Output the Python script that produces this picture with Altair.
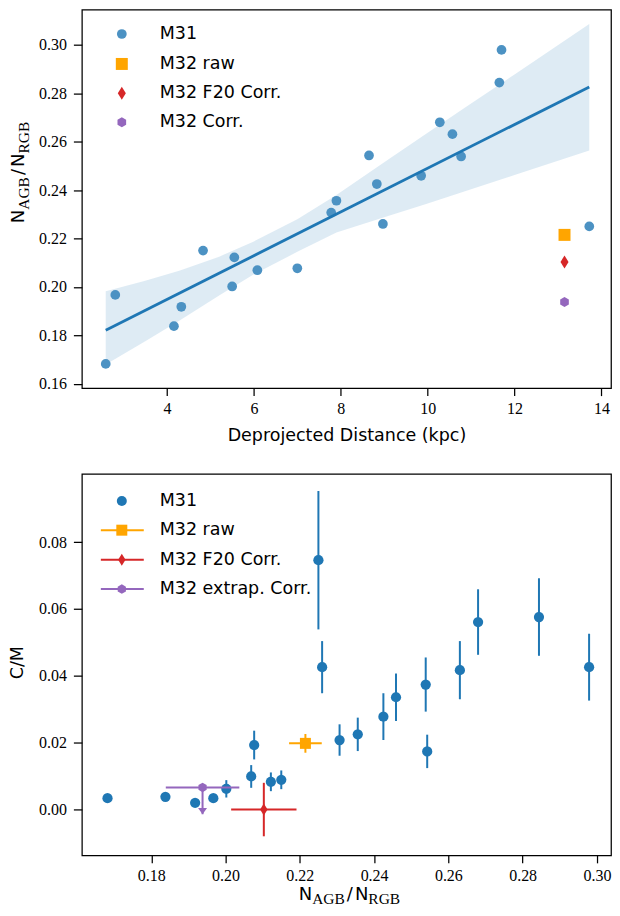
import altair as alt
import pandas as pd

# ---------------- data ----------------
m31_dist = [2.59, 2.81, 4.16, 4.33, 4.83, 5.50, 5.55, 6.08, 7.00, 7.78, 7.90,
            8.65, 8.83, 8.97, 9.85, 10.28, 10.57, 10.77, 11.65, 11.70, 13.72]
m31_ratio = [0.1682, 0.1967, 0.1838, 0.1918, 0.2150, 0.2002, 0.2122, 0.2069, 0.2077, 0.2307, 0.2356,
             0.2543, 0.2425, 0.2260, 0.2459, 0.2680, 0.2631, 0.2539, 0.2844, 0.2979, 0.2250]
m31_cm = [0.0034, 0.0034, 0.0038, 0.0020, 0.0089, 0.0062, 0.0083, 0.0099, 0.0193, 0.0208, 0.0225,
          0.0174, 0.0278, 0.0426, 0.0336, 0.0561, 0.0417, 0.0374, 0.0576, 0.0426, 0.0746]
m31_cm_err = [0.0, 0.0, 0.0008, 0.0, 0.0028, 0.0026, 0.0028, 0.0034, 0.0043, 0.0047, 0.0050,
              0.0050, 0.0070, 0.0078, 0.0071, 0.0098, 0.0087, 0.0081, 0.0116, 0.0100, 0.0207]

m32_series = ["M32 raw", "M32 F20 Corr.", "M32 Corr."]
m32_dist = [13.15, 13.15, 13.15]
m32_ratio = [0.2215, 0.2103, 0.1938]
m32_ratio_err = [0.0044, 0.0088, 0.0099]
m32_cm = [0.0198, 0.0000, 0.0066]
m32_cm_err = [0.0028, 0.0080, 0.0080]
m32_uplim = [False, False, True]

band_dist = [2.59, 3.5, 4.3, 5.2, 6.0, 7.0, 7.9, 9.0, 10.0, 11.0, 12.0, 13.72]
band_lo = [0.1680, 0.1776, 0.1862, 0.1965, 0.2052, 0.2145, 0.2225, 0.2288, 0.2345, 0.2403, 0.2462, 0.2564]
band_hi = [0.1982, 0.2025, 0.2068, 0.2125, 0.2188, 0.2280, 0.2380, 0.2515, 0.2637, 0.2758, 0.2878, 0.3086]

top_legend = ["M31", "M32 raw", "M32 F20 Corr.", "M32 Corr."]
bottom_legend = ["M31", "M32 raw", "M32 F20 Corr.", "M32 extrap. Corr."]

x1_ticks = [4, 6, 8, 10, 12, 14]
y1_ticks = [0.16, 0.18, 0.20, 0.22, 0.24, 0.26, 0.28, 0.30]
x2_ticks = [0.18, 0.20, 0.22, 0.24, 0.26, 0.28, 0.30]
y2_ticks = [0.00, 0.02, 0.04, 0.06, 0.08]

# ---------------- styles ----------------
BLUE = "#1f77b4"
BLUE_A = "#4c92c3"
ORANGE = "#ffa500"
RED = "#d62728"
PURPLE = "#9467bd"
SANS = "DejaVu Sans"
SERIF = "Liberation Serif"
THIN_D = "M0,-1L0.62,0L0,1L-0.62,0Z"
HEX = "M0,-1L0.866,-0.5L0.866,0.5L0,1L-0.866,0.5L-0.866,-0.5Z"
ARROW = "M-1,-1.4L1,-1.4L0,0Z"

W = 530
H1 = 379
H2 = 382
LEFT = 81      # page x of plot-area left edge
TOP2 = 473     # page y of bottom plot-area top

m31_df = pd.DataFrame({"dist": m31_dist, "ratio": m31_ratio, "cm": m31_cm, "err": m31_cm_err})
m31_df["cm_lo"] = m31_df["cm"] - m31_df["err"]
m31_df["cm_hi"] = m31_df["cm"] + m31_df["err"]

m32_df = pd.DataFrame({"series": m32_series, "dist": m32_dist, "ratio": m32_ratio,
                       "rerr": m32_ratio_err, "cm": m32_cm, "cerr": m32_cm_err, "uplim": m32_uplim})
m32_df["r_lo"] = m32_df["ratio"] - m32_df["rerr"]
m32_df["r_hi"] = m32_df["ratio"] + m32_df["rerr"]
m32_df["c_lo"] = m32_df["cm"] - m32_df["cerr"]
m32_df["c_hi"] = [c if u else c + e for c, e, u in zip(m32_cm, m32_cm_err, m32_uplim)]

band_df = pd.DataFrame({"dist": band_dist, "lo": band_lo, "hi": band_hi})

xs1 = alt.Scale(domain=[2.041, 14.22], nice=False, zero=False)
ys1 = alt.Scale(domain=[0.1582, 0.3145], nice=False, zero=False)
xs2 = alt.Scale(domain=[0.1613, 0.3038], nice=False, zero=False)
ys2 = alt.Scale(domain=[-0.0137, 0.1004], nice=False, zero=False)

m32_colors = {"M32 raw": ORANGE, "M32 F20 Corr.": RED, "M32 Corr.": PURPLE}
m32_shapes = {"M32 raw": "square", "M32 F20 Corr.": THIN_D, "M32 Corr.": HEX}
top_sizes = {"M32 raw": 144, "M32 F20 Corr.": 169, "M32 Corr.": 100}
bot_sizes = {"M32 raw": 121, "M32 F20 Corr.": 144, "M32 Corr.": 90}


def text_piece(txt, x, y, font, size, angle=0, align="left"):
    return alt.Chart(pd.DataFrame({"t": [txt]})).mark_text(
        align=align, baseline="alphabetic", font=font, fontSize=size, angle=angle, color="black"
    ).encode(x=alt.value(x), y=alt.value(y), text="t:N")


# composite "N_AGB / N_RGB" label
PIECES = [("N", False), ("AGB", True), ("/", False), ("N", False), ("RGB", True)]
OFFS = [0, 13.5, 48.2, 56.3, 69.8]
TOTAL = 101.7


def ratio_label(x0, y0, vertical):
    out = []
    for (txt, sub), off in zip(PIECES, OFFS):
        font = SERIF if sub else SANS
        size = 15.5 if sub else 18
        if vertical:
            out.append(text_piece(txt, x0 + (4.5 if sub else 0), y0 - off, font, size, angle=270))
        else:
            out.append(text_piece(txt, x0 + off, y0 + (4.5 if sub else 0), font, size))
    return out


def legend(labels, colors, shapes, sizes, ys, lines):
    out = []
    for lab, col, shp, sz, yy, ln in zip(labels, colors, shapes, sizes, ys, lines):
        d = alt.Chart(pd.DataFrame({"label": [lab]}))
        if ln:
            out.append(d.mark_rule(color=col, strokeWidth=2).encode(
                x=alt.value(19), x2=alt.value(62), y=alt.value(yy)))
        out.append(d.mark_point(shape=shp, filled=True, color=col, size=sz, opacity=1, strokeWidth=0).encode(
            x=alt.value(40), y=alt.value(yy)))
        out.append(d.mark_text(align="left", baseline="middle", font=SANS, fontSize=17.5, color="black").encode(
            x=alt.value(78), y=alt.value(yy), text="label:N"))
    return out


# ---------------- top panel ----------------
band = alt.Chart(band_df).mark_area(color=BLUE, opacity=0.15).encode(
    x=alt.X("dist:Q", scale=xs1, axis=alt.Axis(values=x1_ticks, format="d", title="Deprojected Distance (kpc)")),
    y=alt.Y("lo:Q", scale=ys1, axis=alt.Axis(values=y1_ticks, format=".2f", title=None)),
    y2="hi:Q",
)
pts1 = alt.Chart(m31_df).mark_circle(color=BLUE_A, size=95, opacity=1).encode(x="dist:Q", y="ratio:Q")
reg = alt.Chart(m31_df).transform_regression("dist", "ratio").mark_line(color=BLUE, strokeWidth=2.8).encode(
    x="dist:Q", y="ratio:Q")
top_layers = [band, pts1, reg]
for s in m32_series:
    top_layers.append(
        alt.Chart(m32_df).transform_filter(alt.datum.series == s).mark_point(
            shape=m32_shapes[s], filled=True, color=m32_colors[s], size=top_sizes[s], opacity=1, strokeWidth=0
        ).encode(x="dist:Q", y="ratio:Q"))
top_layers += legend(top_legend, [BLUE_A, ORANGE, RED, PURPLE], ["circle", "square", THIN_D, HEX],
                     [95, 144, 169, 100], [24.3, 54.3, 83.7, 112.7], [False] * 4)
top_layers += ratio_label(23.3 - LEFT, 171 - 8 + TOTAL / 2, True)
top = alt.layer(*top_layers).properties(width=W, height=H1)

# ---------------- bottom panel ----------------
err1 = alt.Chart(m31_df).mark_rule(color=BLUE, strokeWidth=2).encode(
    x=alt.X("ratio:Q", scale=xs2, axis=alt.Axis(values=x2_ticks, format=".2f", title=None)),
    y=alt.Y("cm_lo:Q", scale=ys2, axis=alt.Axis(values=y2_ticks, format=".2f", title=None)),
    y2="cm_hi:Q",
)
pts2 = alt.Chart(m31_df).mark_circle(color=BLUE, size=105, opacity=1).encode(x="ratio:Q", y="cm:Q")
bot_layers = [err1, pts2]
for s in m32_series:
    base = alt.Chart(m32_df).transform_filter(alt.datum.series == s)
    c = m32_colors[s]
    bot_layers.append(base.mark_rule(color=c, strokeWidth=2).encode(x="r_lo:Q", x2="r_hi:Q", y="cm:Q"))
    bot_layers.append(base.mark_rule(color=c, strokeWidth=2).encode(x="ratio:Q", y="c_lo:Q", y2="c_hi:Q"))
    if s == "M32 Corr.":
        bot_layers.append(base.mark_point(shape=ARROW, filled=True, color=c, size=81, opacity=1, strokeWidth=0)
                          .encode(x="ratio:Q", y="c_lo:Q"))
    bot_layers.append(base.mark_point(shape=m32_shapes[s], filled=True, color=c, size=bot_sizes[s],
                                      opacity=1, strokeWidth=0).encode(x="ratio:Q", y="cm:Q"))
bot_layers += legend(bottom_legend, [BLUE, ORANGE, RED, PURPLE], ["circle", "square", THIN_D, HEX],
                     [100, 121, 144, 90], [27, 56.3, 86, 115.3], [False, True, True, True])
bot_layers += ratio_label(349 - LEFT - TOTAL / 2, 899.5 - TOP2, False)
bot_layers.append(text_piece("C/M", 22 - LEFT, 662 - TOP2, SANS, 17.5, angle=270, align="center"))
bottom = alt.layer(*bot_layers).properties(width=W, height=H2)

chart = alt.vconcat(top, bottom, spacing=86, bounds="flush").resolve_scale(
    x="independent", y="independent"
).properties(
    padding={"left": 0, "top": 0, "right": 0, "bottom": 0}, background="white"
).configure_view(
    stroke="black", strokeWidth=1.25
).configure_axis(
    labelFont=SERIF, labelFontSize=16, labelColor="black", tickColor="black", tickWidth=1.25,
    domain=False, grid=False, titleFont=SANS, titleFontSize=17.5, titleFontWeight="normal", titleColor="black",
).configure_axisX(
    tickSize=7.5, labelPadding=5, titlePadding=10
).configure_axisY(
    tickSize=8.5, labelPadding=7
)

chart.save("out.html", embed_options={"renderer": "svg", "actions": False})
